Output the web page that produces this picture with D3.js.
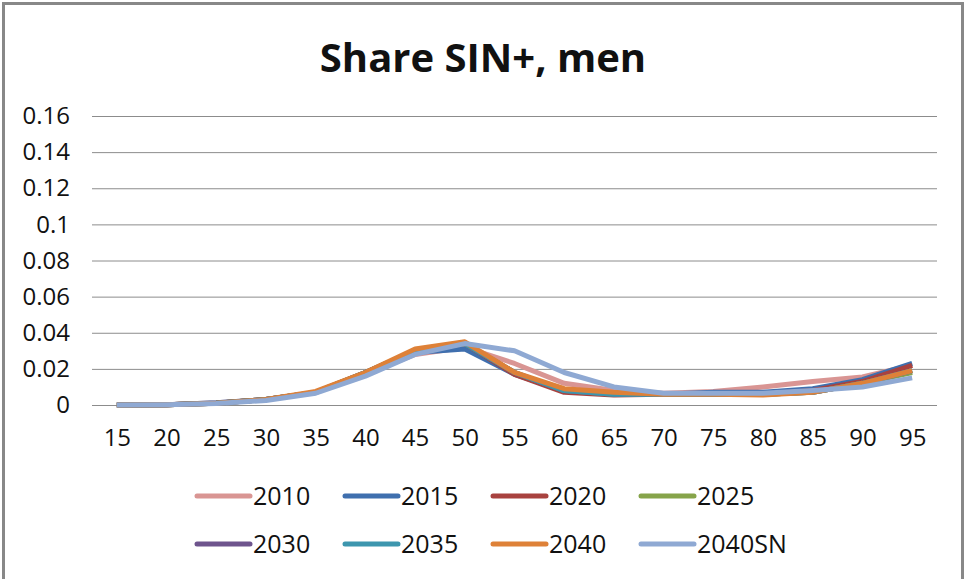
<html>
<head>
<meta charset="utf-8">
<script src="https://cdnjs.cloudflare.com/ajax/libs/d3/7.8.5/d3.min.js"></script>
<style>
  body { margin: 0; background: white; }
  svg text { font-family: "Open Sans", sans-serif; fill: #111; }
</style>
</head>
<body>
<svg id="chart" width="966" height="579"></svg>
<script>
// age groups on the x axis
const ages = ["15","20","25","30","35","40","45","50","55","60","65","70","75","80","85","90","95"];
const yTicks = [0, 0.02, 0.04, 0.06, 0.08, 0.1, 0.12, 0.14, 0.16];
const seriesNames = ["2010","2015","2020","2025","2030","2035","2040","2040SN"];
const seriesColors = ["#d99593","#3f6fae","#a8423f","#86a44a","#6e548d","#3d96ae","#de8138","#8fa9d3"];

const s2010   = [0, 0.0002, 0.0012, 0.003, 0.007, 0.017, 0.028, 0.032, 0.023, 0.012, 0.008, 0.0065, 0.0075, 0.010, 0.013, 0.0155, 0.022];
const s2015   = [0, 0.0002, 0.0012, 0.003, 0.007, 0.017, 0.029, 0.031, 0.017, 0.008, 0.006, 0.006, 0.007, 0.007, 0.009, 0.014, 0.023];
const s2020   = [0, 0.0002, 0.0010, 0.003, 0.007, 0.018, 0.030, 0.034, 0.017, 0.007, 0.0055, 0.006, 0.006, 0.006, 0.008, 0.013, 0.022];
const s2025   = [0, 0.0002, 0.0010, 0.003, 0.007, 0.018, 0.030, 0.034, 0.018, 0.008, 0.006, 0.006, 0.006, 0.006, 0.007, 0.012, 0.018];
const s2030   = [0, 0.0002, 0.0010, 0.003, 0.007, 0.018, 0.030, 0.034, 0.018, 0.008, 0.006, 0.006, 0.006, 0.006, 0.007, 0.012, 0.019];
const s2035   = [0, 0.0002, 0.0010, 0.003, 0.007, 0.018, 0.030, 0.034, 0.018, 0.008, 0.006, 0.006, 0.006, 0.006, 0.007, 0.012, 0.019];
const s2040   = [0, 0.0002, 0.0010, 0.003, 0.0075, 0.018, 0.031, 0.035, 0.018, 0.009, 0.007, 0.006, 0.006, 0.0055, 0.007, 0.012, 0.019];
const s2040SN = [0, 0.0001, 0.0008, 0.0025, 0.0065, 0.016, 0.028, 0.034, 0.030, 0.018, 0.010, 0.0065, 0.0065, 0.0065, 0.008, 0.010, 0.015];

const allSeries = [s2010, s2015, s2020, s2025, s2030, s2035, s2040, s2040SN];

const svg = d3.select("#chart");

// outer frame of the chart object
svg.append("rect")
  .attr("x", 3.5).attr("y", 3.5)
  .attr("width", 959).attr("height", 600)
  .attr("fill", "white")
  .attr("stroke", "#888").attr("stroke-width", 3);

svg.append("text")
  .attr("x", 483).attr("y", 72)
  .attr("text-anchor", "middle")
  .attr("font-size", 40).attr("font-weight", "bold")
  .text("Share SIN+, men");

const plotL = 92, plotR = 937, plotT = 116, plotB = 405;

const x = d3.scalePoint().domain(ages).range([plotL, plotR]).padding(0.5);
const y = d3.scaleLinear().domain([0, 0.16]).range([plotB, plotT]);

// gridlines
svg.append("g").selectAll("line")
  .data(yTicks).enter().append("line")
  .attr("x1", plotL).attr("x2", plotR)
  .attr("y1", d => y(d) + 0.5).attr("y2", d => y(d) + 0.5)
  .attr("stroke", "#8c8c8c").attr("stroke-width", 1);

// y axis labels
const yAxis = svg.append("g")
  .attr("transform", "translate(" + (plotL - 22) + ",0)")
  .call(d3.axisLeft(y).tickValues(yTicks).tickSize(0).tickPadding(0).tickFormat(d => String(+d.toFixed(2))));
yAxis.select(".domain").remove();
yAxis.selectAll("text").attr("font-size", 24).attr("font-family", "Open Sans").attr("fill", "#111");

// x axis labels
const xAxis = svg.append("g")
  .attr("transform", "translate(0," + plotB + ")")
  .call(d3.axisBottom(x).tickSize(0).tickPadding(24));
xAxis.select(".domain").remove();
xAxis.selectAll("text").attr("font-size", 24).attr("font-family", "Open Sans").attr("fill", "#111");

const line = d3.line()
  .x((d, i) => x(ages[i]))
  .y(d => y(d));

svg.append("g").selectAll("path")
  .data(allSeries).enter().append("path")
  .attr("d", d => line(d))
  .attr("fill", "none")
  .attr("stroke", (d, i) => seriesColors[i])
  .attr("stroke-width", 5)
  .attr("stroke-linejoin", "round");

// legend, 4 per row
const legend = svg.append("g");
seriesNames.forEach(function(name, i) {
  const col = i % 4, row = Math.floor(i / 4);
  const lx = 197 + col * 148, ly = 496 + row * 48;
  legend.append("line")
    .attr("x1", lx).attr("x2", lx + 53)
    .attr("y1", ly).attr("y2", ly)
    .attr("stroke", seriesColors[i]).attr("stroke-width", 5)
    .attr("stroke-linecap", "round");
  legend.append("text")
    .attr("x", lx + 56).attr("y", ly + 9)
    .attr("font-size", 25)
    .text(name);
});
</script>
</body>
</html>
